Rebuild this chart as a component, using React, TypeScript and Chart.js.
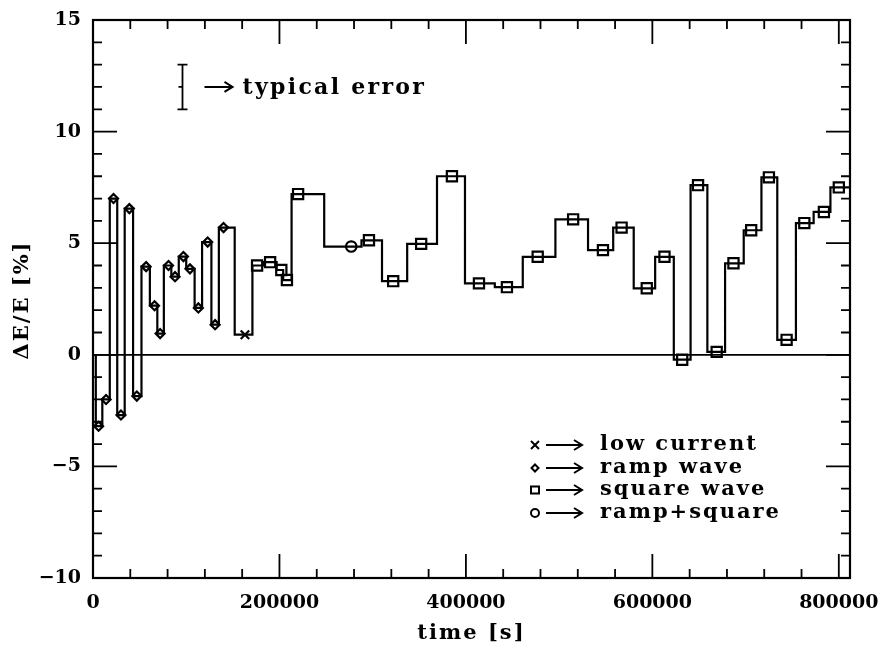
import React, { useEffect, useRef } from 'react';
import { Chart, registerables } from 'chart.js';

Chart.register(...registerables);

// ---- data ----
const startLevel = 0;
const stepEdges = [
  3000, 10000, 18000, 26000, 34000, 43000, 52000, 61000, 69000, 76000, 84000,
  92000, 100000, 109000, 117000, 127000, 135000, 152000, 171000, 183000, 197000,
  204000, 213000, 248000, 288000, 310000, 337000, 369000, 399000, 431000, 461000,
  496000, 531000, 558000, 580000, 603000, 623000, 641000, 659000, 678000, 698000,
  717000, 734000, 754000, 773000, 791000, 812000,
];
const stepValues = [
  -3.2, -2.0, 7.0, -2.7, 6.55, -1.85, 3.95, 2.2, 0.95, 4.0, 3.5, 4.4, 3.85, 2.1,
  5.05, 1.35, 5.7, 0.9, 4.0, 4.15, 3.8, 3.35, 7.2, 4.85, 5.13, 3.3, 4.97, 8.0,
  3.2, 3.03, 4.39, 6.07, 4.69, 5.7, 2.98, 4.39, -0.22, 7.6, 0.13, 4.1, 5.58,
  7.95, 0.67, 5.9, 6.4, 7.5,
];
const markerTimes = [
  6000, 14000, 22000, 30000, 39000, 47000, 57000, 66000, 72000, 81000, 88000,
  97000, 104000, 113000, 123000, 131000, 140000, 163000, 176000, 190000, 202000,
  208000, 220000, 277000, 296000, 322000, 352000, 385000, 414000, 444000, 477000,
  515000, 547000, 567000, 594000, 613000, 632000, 649000, 669000, 687000, 706000,
  725000, 744000, 763000, 784000, 800000,
];
const markerKinds = [
  'ramp', 'ramp', 'ramp', 'ramp', 'ramp', 'ramp', 'ramp', 'ramp', 'ramp', 'ramp',
  'ramp', 'ramp', 'ramp', 'ramp', 'ramp', 'ramp', 'ramp', 'low', 'square',
  'square', 'square', 'square', 'square', 'rampSquare', 'square', 'square',
  'square', 'square', 'square', 'square', 'square', 'square', 'square', 'square',
  'square', 'square', 'square', 'square', 'square', 'square', 'square', 'square',
  'square', 'square', 'square', 'square',
];
const legendKinds = ['low', 'ramp', 'square', 'rampSquare'];
const legendLabels = ['low current', 'ramp wave', 'square wave', 'ramp+square'];
const errorBar = { t: 96000, y: 12, half: 1 };
const xTickValues = [0, 200000, 400000, 600000, 800000];
const yTickValues = [-10, -5, 0, 5, 10, 15];

const FONT = '"DejaVu Serif", serif';
const W = 885;
const H = 652;

const styleOf: Record<string, { ps: string; r: number }> = {
  ramp: { ps: 'rectRot', r: 4.5 },
  low: { ps: 'crossRot', r: 6 },
  square: { ps: 'rect', r: 7.2 },
  rampSquare: { ps: 'circle', r: 5.2 },
};

function drawSymbol(ctx: CanvasRenderingContext2D, kind: string, x: number, y: number) {
  ctx.save();
  ctx.lineWidth = 2;
  ctx.strokeStyle = '#000';
  ctx.beginPath();
  if (kind === 'low') {
    ctx.moveTo(x - 4, y - 4); ctx.lineTo(x + 4, y + 4);
    ctx.moveTo(x + 4, y - 4); ctx.lineTo(x - 4, y + 4);
  } else if (kind === 'ramp') {
    ctx.moveTo(x, y - 3.5); ctx.lineTo(x + 3.5, y); ctx.lineTo(x, y + 3.5); ctx.lineTo(x - 3.5, y); ctx.closePath();
  } else if (kind === 'square') {
    ctx.rect(x - 4, y - 3.5, 8, 7);
  } else {
    ctx.arc(x, y, 4, 0, Math.PI * 2);
  }
  ctx.stroke();
  ctx.restore();
}

function arrow(ctx: CanvasRenderingContext2D, x1: number, x2: number, y: number) {
  ctx.save();
  ctx.lineWidth = 2;
  ctx.strokeStyle = '#000';
  ctx.beginPath();
  ctx.moveTo(x1, y); ctx.lineTo(x2, y);
  ctx.moveTo(x2 - 8, y - 5); ctx.lineTo(x2, y); ctx.lineTo(x2 - 8, y + 5);
  ctx.stroke();
  ctx.restore();
}

function text(ctx: CanvasRenderingContext2D, s: string, x: number, y: number, size = 21, spacing = 2, align: CanvasTextAlign = 'left') {
  ctx.save();
  ctx.font = `bold ${size}px ${FONT}`;
  (ctx as any).letterSpacing = `${spacing}px`;
  ctx.fillStyle = '#000';
  ctx.textAlign = align;
  ctx.textBaseline = 'middle';
  ctx.fillText(s, x, y);
  ctx.restore();
}

const decor = {
  id: 'decor',
  afterDraw(chart: any) {
    const ctx: CanvasRenderingContext2D = chart.ctx;
    const { left, right, top, bottom } = chart.chartArea;
    const xs = chart.scales.x;
    const ys = chart.scales.y;
    ctx.save();
    ctx.strokeStyle = '#000';
    // frame
    ctx.lineWidth = 2.2;
    ctx.strokeRect(left, top, right - left, bottom - top);
    // ticks (mirrored, inward)
    ctx.lineWidth = 1.8;
    ctx.beginPath();
    for (let v = 0; v <= 810000; v += 40000) {
      const p = xs.getPixelForValue(v);
      const major = v % 200000 === 0;
      const L = major ? 24 : 9;
      ctx.moveTo(p, bottom); ctx.lineTo(p, bottom - L);
      ctx.moveTo(p, top); ctx.lineTo(p, top + L);
    }
    for (let v = -10; v <= 15; v += 1) {
      const p = ys.getPixelForValue(v);
      const major = v % 5 === 0;
      const L = major ? 24 : 9;
      ctx.moveTo(left, p); ctx.lineTo(left + L, p);
      ctx.moveTo(right, p); ctx.lineTo(right - L, p);
    }
    ctx.stroke();
    // zero line
    ctx.lineWidth = 1.8;
    ctx.beginPath();
    const z = ys.getPixelForValue(0);
    ctx.moveTo(left, z); ctx.lineTo(right, z);
    ctx.stroke();
    // typical error bar
    const ex = xs.getPixelForValue(errorBar.t);
    const eTop = ys.getPixelForValue(errorBar.y + errorBar.half);
    const eBot = ys.getPixelForValue(errorBar.y - errorBar.half);
    const eMid = ys.getPixelForValue(errorBar.y);
    ctx.lineWidth = 1.8;
    ctx.beginPath();
    ctx.moveTo(ex, eTop); ctx.lineTo(ex, eBot);
    ctx.moveTo(ex - 5, eTop); ctx.lineTo(ex + 5, eTop);
    ctx.moveTo(ex - 5, eBot); ctx.lineTo(ex + 5, eBot);
    ctx.moveTo(ex - 4, eMid); ctx.lineTo(ex, eMid);
    ctx.stroke();
    arrow(ctx, ex + 22, ex + 50, eMid);
    text(ctx, 'typical error', ex + 60, eMid + 1, 22, 2.3);
    // legend
    const rowY = [445, 468, 490, 513];
    legendKinds.forEach((k, i) => {
      drawSymbol(ctx, k, 535, rowY[i]);
      arrow(ctx, 546, 582, rowY[i]);
      text(ctx, legendLabels[i], 600, rowY[i], 21, 2);
    });
    // axis titles
    text(ctx, 'time [s]', (left + right) / 2, 634, 21, 2, 'center');
    ctx.save();
    ctx.translate(23, 300);
    ctx.rotate(-Math.PI / 2);
    text(ctx, 'ΔE/E [%]', 0, 0, 21, 2, 'center');
    ctx.restore();
    ctx.restore();
  },
};

export default function App() {
  const ref = useRef<HTMLCanvasElement>(null);
  useEffect(() => {
    if (!ref.current) return;
    const linePts: { x: number; y: number }[] = [{ x: stepEdges[0], y: startLevel }];
    stepValues.forEach((v, i) => {
      linePts.push({ x: stepEdges[i], y: v });
      linePts.push({ x: stepEdges[i + 1], y: v });
    });
    const markerPts = markerTimes.map((t, i) => ({ x: t, y: stepValues[i] }));
    const tickFont = { family: FONT, size: 19, weight: 'bold' as const };
    const chart = new Chart(ref.current, {
      type: 'scatter',
      data: {
        datasets: [
          {
            type: 'line',
            data: linePts,
            borderColor: '#000',
            borderWidth: 2.2,
            pointRadius: 0,
            tension: 0,
            fill: false,
          } as any,
          {
            type: 'scatter',
            data: markerPts,
            pointStyle: markerKinds.map((k) => styleOf[k].ps) as any,
            pointRadius: markerKinds.map((k) => styleOf[k].r),
            borderColor: '#000',
            backgroundColor: 'rgba(0,0,0,0)',
            borderWidth: 2.2,
          } as any,
        ],
      },
      options: {
        responsive: false,
        animation: false,
        events: [],
        layout: { autoPadding: false, padding: { top: 20, right: 35, left: 0, bottom: 0 } },
        plugins: { legend: { display: false }, tooltip: { enabled: false } },
        scales: {
          x: {
            type: 'linear',
            min: 0,
            max: 812000,
            grid: { display: false, drawTicks: false },
            border: { display: false },
            afterFit: (s: any) => { s.height = 74; s.paddingLeft = 0; s.paddingRight = 0; },
            afterBuildTicks: (s: any) => { s.ticks = xTickValues.map((v) => ({ value: v })); },
            ticks: {
              padding: 14,
              color: '#000',
              font: tickFont,
              maxRotation: 0,
              callback: (v: any) => String(v),
            },
          },
          y: {
            type: 'linear',
            min: -10,
            max: 15,
            grid: { display: false, drawTicks: false },
            border: { display: false },
            afterFit: (s: any) => { s.width = 93; s.paddingTop = 0; s.paddingBottom = 0; },
            afterBuildTicks: (s: any) => { s.ticks = yTickValues.map((v) => ({ value: v })); },
            ticks: {
              padding: 12,
              color: '#000',
              font: tickFont,
              callback: (v: any) => (Number(v) < 0 ? '\u2212' + Math.abs(Number(v)) : String(v)),
            },
          },
        },
      },
      plugins: [decor],
    });
    return () => chart.destroy();
  }, []);
  return (
    <div style={{ position: 'absolute', left: 0, top: 0, width: W, height: H }}>
      <canvas ref={ref} width={W} height={H} style={{ display: 'block' }} />
    </div>
  );
}
